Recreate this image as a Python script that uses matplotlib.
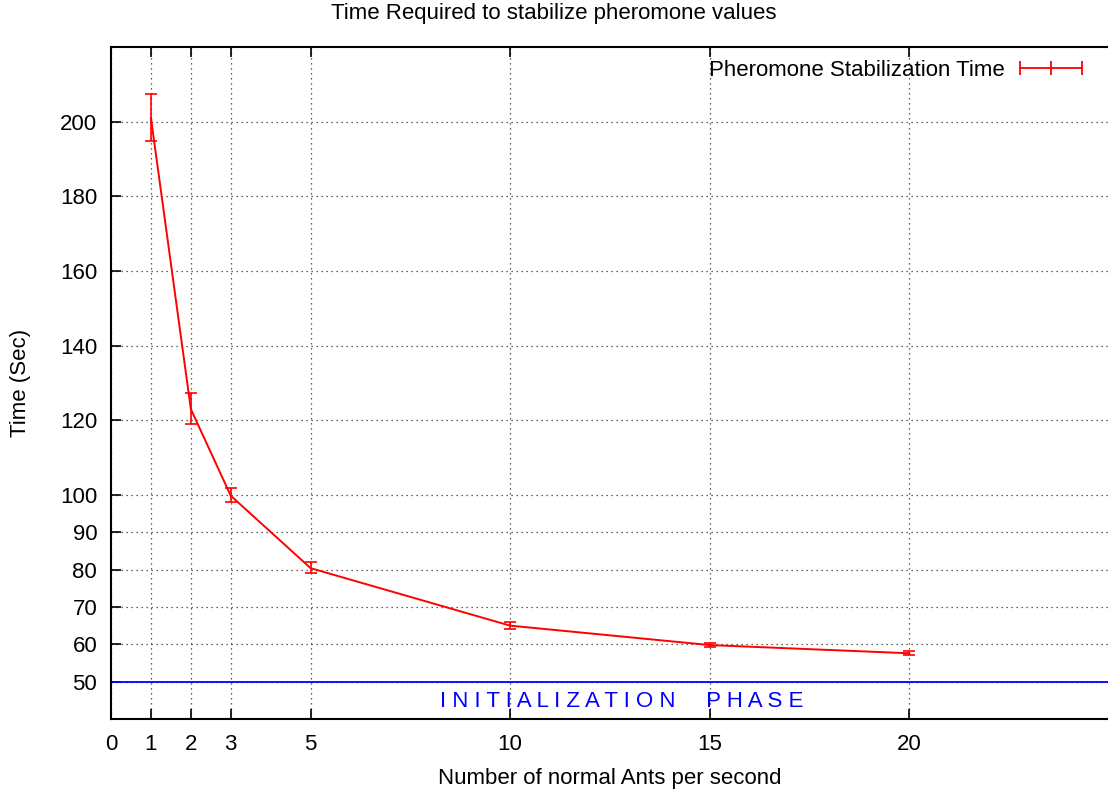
import matplotlib.pyplot as plt
from matplotlib.lines import Line2D

plt.rcParams['font.family'] = ['Liberation Sans', 'DejaVu Sans']

# values
ants = [1, 2, 3, 5, 10, 15, 20]
time_mean = [201.0, 123.0, 99.8, 80.4, 65.0, 59.8, 57.6]
time_low = [194.8, 119.0, 98.0, 79.0, 64.0, 59.3, 57.1]
time_high = [207.5, 127.3, 102.0, 82.0, 66.0, 60.3, 58.1]

x_ticks = [0, 1, 2, 3, 5, 10, 15, 20]
y_ticks = [50, 60, 70, 80, 90, 100, 120, 140, 160, 180, 200]
init_level = 50

fs = 16

fig = plt.figure(figsize=(11.08, 7.92), dpi=100)
ax = fig.add_axes([0.1002, 0.0922, 0.9005, 0.8485])

yerr = [[m - lo for m, lo in zip(time_mean, time_low)],
        [hi - m for m, hi in zip(time_mean, time_high)]]
ax.errorbar(ants, time_mean, yerr=yerr, color="red", lw=1.4, capsize=4,
            capthick=1.2, elinewidth=1.2, zorder=3)

ax.axhline(init_level, color="blue", lw=1.3, zorder=2)
ax.text(12.8, 44.7, "I N I T I A L I Z A T I O N     P H A S E",
        color="blue", fontsize=fs, ha="center", va="center")

ax.set_xlim(0, 25)
ax.set_ylim(40, 220)
ax.set_xticks(x_ticks)
ax.set_yticks(y_ticks)
ax.tick_params(direction="in", length=7, width=1.2, labelsize=fs,
               top=True, pad=10)
ax.tick_params(axis="x", labeltop=False, pad=11)
ax.grid(True, color="black", linestyle=(0, (1, 3)), lw=0.9, alpha=0.8)
for side in ("left", "bottom", "top"):
    ax.spines[side].set_linewidth(1.5)
ax.spines["right"].set_visible(False)

ax.set_xlabel("Number of normal Ants per second", fontsize=fs, labelpad=9)
ax.set_ylabel("Time (Sec)", fontsize=fs, labelpad=21)
fig.text(0.5, 0.996, "Time Required to stabilize pheromone values",
         ha="center", va="top", fontsize=fs)

handle = Line2D([], [], color="red", lw=1.3, marker="|", markersize=10,
                markeredgewidth=1.3)
ax.legend([handle], ["Pheromone Stabilization Time"], loc="upper right",
          bbox_to_anchor=(1.0, 1.01), frameon=False, fontsize=fs,
          markerfirst=False, numpoints=3, handlelength=3.4,
          handletextpad=0.4)

fig.savefig("out.png", dpi=100)
